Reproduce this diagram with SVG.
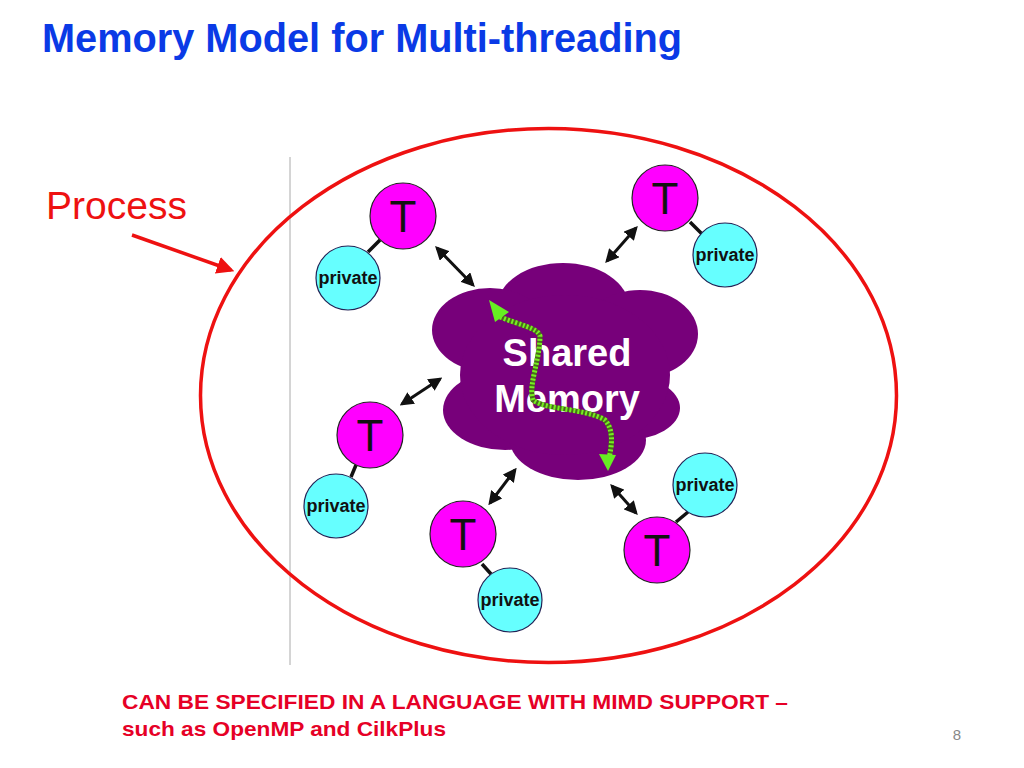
<svg xmlns="http://www.w3.org/2000/svg" width="1024" height="768" viewBox="0 0 1024 768">
<style>
.t{fill:#ff00ff;stroke:#222;stroke-width:1.2}
.p{fill:#66ffff;stroke:#225;stroke-width:1.2}
.tl{font-family:"Liberation Sans",Arial,sans-serif;font-size:44px;fill:#111;text-anchor:middle}
.pl{font-family:"Liberation Sans",Arial,sans-serif;font-size:18px;font-weight:bold;fill:#111;text-anchor:middle}
.link{stroke:#111;stroke-width:3.5}
.dbl{stroke:#111;stroke-width:3;marker-start:url(#ah);marker-end:url(#ah)}
.cloud{fill:#77007a}
</style>
<defs>
<marker id="ah" viewBox="0 0 10 10" refX="8" refY="5" markerWidth="4.6" markerHeight="4.6" orient="auto-start-reverse" markerUnits="strokeWidth">
<path d="M0,0 L10,5 L0,10 z" fill="#111"/>
</marker>
<marker id="rh" viewBox="0 0 10 10" refX="8" refY="5" markerWidth="5" markerHeight="5" orient="auto" markerUnits="strokeWidth">
<path d="M0,0 L10,5 L0,10 z" fill="#ee1111"/>
</marker>
</defs>
<rect width="1024" height="768" fill="#fff"/>
<text x="42" y="52" font-family="'Liberation Sans',Arial,sans-serif" font-size="40" font-weight="bold" fill="#0a3ae6" textLength="640" lengthAdjust="spacingAndGlyphs">Memory Model for Multi-threading</text>
<line x1="290" y1="157" x2="290" y2="665" stroke="#aaa" stroke-width="1"/>
<g id="process">
<ellipse cx="548.5" cy="395.5" rx="348" ry="267" fill="none" stroke="#ee1111" stroke-width="3.5"/>
<text x="46" y="219" font-family="'Liberation Sans',Arial,sans-serif" font-size="39" fill="#ee1111">Process</text>
<line x1="132" y1="235" x2="231" y2="270" stroke="#ee1111" stroke-width="3.5" marker-end="url(#rh)"/>
</g>
<g id="shared-memory">
<g class="cloud">
<ellipse cx="563" cy="307" rx="66" ry="44"/>
<ellipse cx="490" cy="330" rx="58" ry="42"/>
<ellipse cx="640" cy="334" rx="58" ry="44"/>
<ellipse cx="626" cy="408" rx="54" ry="32"/>
<ellipse cx="505" cy="410" rx="62" ry="40"/>
<ellipse cx="578" cy="440" rx="68" ry="40"/>
<ellipse cx="565" cy="375" rx="105" ry="80"/>
</g>
<text x="567" y="366" font-family="'Liberation Sans',Arial,sans-serif" font-size="38" font-weight="bold" fill="#fff" text-anchor="middle">Shared</text>
<text x="567" y="412" font-family="'Liberation Sans',Arial,sans-serif" font-size="38" font-weight="bold" fill="#fff" text-anchor="middle">Memory</text>
<path d="M500,317 C520,325 538,328 540,336 C540,360 528,385 533,400 C545,410 585,408 605,420 C614,430 612,445 609,458" fill="none" stroke="#4b6a1c" stroke-width="5"/>
<path d="M500,317 C520,325 538,328 540,336 C540,360 528,385 533,400 C545,410 585,408 605,420 C614,430 612,445 609,458" fill="none" stroke="#77ee22" stroke-width="5" stroke-dasharray="2 2"/>
<path d="M489,300 L509,312 L495,322 z" fill="#66ee22"/>
<path d="M608,471 L599,454 L616,455 z" fill="#66ee22"/>
</g>
<g id="connectors">
<line class="dbl" x1="437" y1="248" x2="473" y2="285"/>
<line class="dbl" x1="636" y1="228" x2="607" y2="261"/>
<line class="dbl" x1="402" y1="404" x2="440" y2="379"/>
<line class="dbl" x1="490" y1="503" x2="515" y2="470"/>
<line class="dbl" x1="612" y1="486" x2="636" y2="513"/>
<line class="link" x1="380" y1="240" x2="368" y2="252"/>
<line class="link" x1="690" y1="222" x2="702" y2="234"/>
<line class="link" x1="356" y1="465" x2="351" y2="477"/>
<line class="link" x1="482" y1="564" x2="491" y2="574"/>
<line class="link" x1="676" y1="522" x2="688" y2="512"/>
</g>
<g id="thread1"><circle class="t" cx="403" cy="216" r="33"/><text class="tl" x="403" y="232">T</text></g>
<g id="private1"><circle class="p" cx="348" cy="278" r="32"/><text class="pl" x="348" y="284">private</text></g>
<g id="thread2"><circle class="t" cx="665" cy="198" r="33"/><text class="tl" x="665" y="214">T</text></g>
<g id="private2"><circle class="p" cx="725" cy="255" r="32"/><text class="pl" x="725" y="261">private</text></g>
<g id="thread3"><circle class="t" cx="370" cy="435" r="33"/><text class="tl" x="370" y="451">T</text></g>
<g id="private3"><circle class="p" cx="336" cy="506" r="32"/><text class="pl" x="336" y="512">private</text></g>
<g id="thread4"><circle class="t" cx="463" cy="534" r="33"/><text class="tl" x="463" y="550">T</text></g>
<g id="private4"><circle class="p" cx="510" cy="600" r="32"/><text class="pl" x="510" y="606">private</text></g>
<g id="thread5"><circle class="t" cx="657" cy="550" r="33"/><text class="tl" x="657" y="566">T</text></g>
<g id="private5"><circle class="p" cx="705" cy="485" r="32"/><text class="pl" x="705" y="491">private</text></g>
<g font-family="'Liberation Sans',Arial,sans-serif" font-size="21" font-weight="bold" fill="#e60026">
<text x="122" y="709" textLength="666" lengthAdjust="spacingAndGlyphs">CAN BE SPECIFIED IN A LANGUAGE WITH MIMD SUPPORT –</text>
<text x="122" y="736" textLength="324" lengthAdjust="spacingAndGlyphs">such as OpenMP and CilkPlus</text>
</g>
<text x="957" y="740" font-family="'Liberation Sans',Arial,sans-serif" font-size="15" fill="#888" text-anchor="middle">8</text>
</svg>
